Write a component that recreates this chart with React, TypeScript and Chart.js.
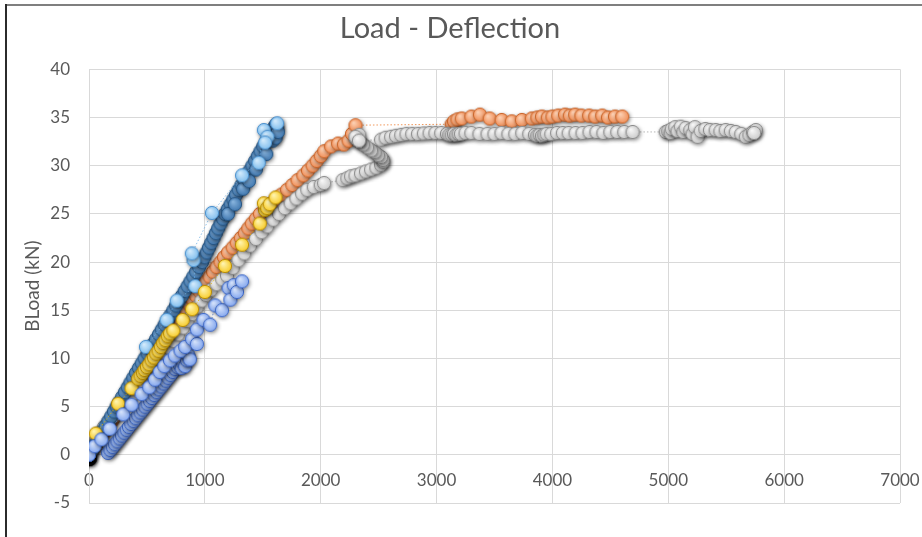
import React, { useEffect, useRef } from "react";
import { Chart, registerables } from "chart.js";

Chart.register(...registerables);

const TITLE = "Load - Deflection";
const Y_TITLE = "BLoad (kN)";
const xTicks = [0, 1000, 2000, 3000, 4000, 5000, 6000, 7000];
const yTicks = [-5, 0, 5, 10, 15, 20, 25, 30, 35, 40];

type P = [number, number];

const blackPts: P[] = [[0, -0.35], [6, -0.45], [3, -0.2]];

const steelPts: P[] = [
  [0, 0], [24, 0.5], [48, 1], [72, 1.5], [96, 2], [120, 2.5], [144, 3], [168, 3.5], [192, 4], [215, 4.5],
  [238, 5], [262, 5.5], [286, 6], [310, 6.5], [334, 7], [358, 7.5], [382, 8], [406, 8.5], [430, 9], [455, 9.5],
  [480, 10], [505, 10.5], [530, 11], [554, 11.5], [579, 12], [604, 12.5], [628, 13], [653, 13.5], [678, 14], [703, 14.5],
  [728, 15], [752, 15.5], [777, 16], [802, 16.5], [826, 17], [851, 17.5], [876, 18], [900, 18.5], [925, 19], [950, 19.5],
  [975, 20], [995, 20.5], [1015, 21], [1035, 21.5], [1055, 22], [1075, 22.5], [1095, 23], [1115, 23.5], [1135, 24], [1155, 24.5],
  [1175, 25], [1198, 25.5], [1222, 26], [1246, 26.5], [1269, 27], [1292, 27.5], [1316, 28], [1340, 28.5], [1363, 29], [1386, 29.5],
  [1410, 30], [1434, 30.5], [1457, 31], [1480, 31.5], [1504, 32], [1528, 32.5], [1551, 33], [1575, 33.5], [1598, 34], [1615, 34.3],
  [1625, 33.8], [1605, 33.2], [1585, 32.6], [1610, 32.9], [1630, 33.5],
  [1200, 25.0], [1330, 27.6], [1440, 29.6], [1530, 31.2], [1380, 28.4], [1260, 26.0],
];

const skyPts: P[] = [
  [491, 11.2], [670, 14], [757, 16], [916, 17.5], [902, 20.2], [887, 20.9], [1061, 25.1], [1321, 29],
  [1465, 30.3], [1509, 33.7], [1540, 33], [1520, 32.4], [1624, 34.4],
];

const orangePts: P[] = [
  [0, 0], [28, 0.5], [56, 1], [84, 1.5], [112, 2], [140, 2.5], [168, 3], [196, 3.5], [224, 4], [252, 4.5],
  [280, 5], [308, 5.5], [336, 6], [364, 6.5], [392, 7], [420, 7.5], [448, 8], [476, 8.5], [504, 9], [532, 9.5],
  [560, 10], [588, 10.5], [616, 11], [644, 11.5], [672, 12], [700, 12.5], [728, 13], [756, 13.5], [784, 14], [812, 14.5],
  [840, 15], [868, 15.5], [896, 16], [924, 16.5], [952, 17], [980, 17.5], [1008, 18], [1040, 18.5], [1070, 19], [1100, 19.5],
  [1135, 20], [1165, 20.5], [1200, 21], [1240, 21.5], [1275, 22], [1310, 22.5], [1345, 23], [1375, 23.5], [1405, 24], [1440, 24.5],
  [1475, 25], [1520, 25.5], [1565, 26], [1610, 26.5], [1660, 27], [1710, 27.5], [1755, 28], [1800, 28.5], [1850, 29], [1890, 29.5],
  [1930, 30], [1965, 30.5], [2000, 31], [2030, 31.5], [2090, 32], [2150, 32.3], [2200, 32.2], [2240, 32.6], [2270, 33.3], [2300, 34.2],
  [3130, 34.3], [3150, 34.6], [3180, 34.8], [3217, 34.9], [3300, 35.1], [3374, 35.3], [3459, 34.9], [3562, 34.75], [3649, 34.6], [3736, 34.75],
  [3822, 34.9], [3870, 35.0], [3909, 35.1], [3960, 35.0], [4000, 35.1], [4050, 35.2], [4109, 35.3], [4150, 35.2], [4196, 35.3], [4250, 35.2],
  [4317, 35.2], [4370, 35.1], [4430, 35.2], [4480, 35.0], [4540, 35.1], [4603, 35.1],
];

const grayPts: P[] = [
  [0, 0], [30, 0.8], [60, 1.6], [90, 2.3], [130, 2.9], [170, 3.5], [210, 4.0], [250, 4.5], [290, 5.0], [330, 5.6],
  [370, 6.2], [410, 6.8], [450, 7.5], [490, 8.1], [530, 8.7], [570, 9.3], [610, 9.9], [650, 10.5], [690, 11.1], [730, 11.8],
  [770, 12.5], [810, 13.2], [850, 13.9], [890, 14.6], [930, 15.3], [970, 16.0], [1010, 16.6], [1050, 17.1], [1100, 17.7], [1150, 18.2],
  [1191, 18.6], [1240, 19.4], [1290, 20.2], [1340, 20.9], [1390, 21.7], [1440, 22.4], [1490, 23.1], [1538, 23.7], [1590, 24.4], [1640, 25.0],
  [1690, 25.6], [1740, 26.1], [1790, 26.6], [1840, 27.1], [1884, 27.5], [1940, 27.8], [2000, 28.0], [2029, 28.2],
  [2189, 28.5], [2230, 28.7], [2262, 28.9], [2300, 29.0], [2348, 29.2], [2390, 29.4], [2435, 29.6], [2480, 29.8], [2521, 30.1], [2540, 30.4],
  [2536, 30.6], [2520, 30.9], [2493, 31.1], [2465, 31.4], [2435, 31.6], [2400, 31.9], [2363, 32.2], [2330, 32.5], [2305, 32.8], [2333, 33.2],
  [2300, 33.0], [2330, 32.6],
  [2521, 32.7], [2560, 32.9], [2608, 33.0], [2650, 33.1], [2695, 33.2], [2740, 33.3], [2790, 33.3], [2840, 33.3], [2890, 33.35], [2940, 33.4],
  [2990, 33.4], [3040, 33.4], [3090, 33.3], [3110, 33.2], [3130, 33.2], [3150, 33.3], [3170, 33.2], [3190, 33.3], [3210, 33.3], [3250, 33.4],
  [3300, 33.4], [3370, 33.3], [3440, 33.3], [3500, 33.3], [3560, 33.4], [3620, 33.3], [3680, 33.3], [3740, 33.4], [3800, 33.3], [3850, 33.2],
  [3870, 33.1], [3890, 33.2], [3910, 33.1], [3930, 33.2], [3950, 33.3], [3990, 33.3], [4040, 33.4], [4090, 33.4], [4140, 33.4], [4200, 33.4],
  [4260, 33.4], [4320, 33.5], [4380, 33.5], [4440, 33.4], [4500, 33.5], [4560, 33.5], [4620, 33.5], [4692, 33.5],
  [4978, 33.5], [5000, 33.6], [5020, 33.4], [5030, 33.8], [5060, 34.0], [5080, 33.6], [5108, 34.05], [5130, 33.5], [5150, 33.9], [5190, 33.7],
  [5210, 33.3], [5230, 34.0], [5253, 33.0], [5280, 33.6], [5320, 33.8], [5360, 33.7], [5409, 33.7], [5450, 33.6], [5495, 33.7], [5540, 33.6],
  [5582, 33.5], [5630, 33.3], [5669, 33.0], [5700, 33.2], [5730, 33.5], [5756, 33.7], [5740, 33.4],
];

const goldPts: P[] = [
  [58, 2.2], [251, 5.3], [367, 6.9], [425, 7.9], [445, 8.2], [465, 8.5], [480, 8.8], [500, 9.1], [520, 9.4], [540, 9.8],
  [560, 10.1], [580, 10.5], [600, 10.8], [620, 11.2], [640, 11.6], [660, 11.9], [680, 12.3], [700, 12.6], [728, 12.9], [809, 14.0],
  [890, 15.1], [1000, 16.9], [1173, 19.6], [1321, 21.8], [1474, 24.0], [1520, 25.4], [1509, 26.1], [1538, 25.6], [1560, 26.0], [1610, 26.7],
];

const cornDensePts: P[] = [
  [165, 0.2], [185, 0.5], [205, 0.8], [225, 1.1], [245, 1.4], [265, 1.7], [285, 2.0], [305, 2.3], [325, 2.6], [345, 2.9],
  [365, 3.2], [385, 3.5], [405, 3.8], [425, 4.1], [445, 4.4], [465, 4.7], [485, 5.0], [505, 5.3], [525, 5.6], [545, 5.9],
  [565, 6.2], [585, 6.5], [605, 6.8], [625, 7.1], [645, 7.4], [665, 7.7], [685, 8.0], [705, 8.3], [725, 8.6], [745, 8.9],
  [765, 9.1], [785, 9.3], [800, 9.0], [815, 9.5], [830, 9.2], [845, 9.8], [860, 10.2], [850, 10.5], [870, 9.9],
];

const cornSparsePts: P[] = [
  [0, 0], [49, 0.9], [107, 1.6], [179, 2.7], [295, 4.2], [367, 5.2], [454, 6.3], [520, 7.0], [569, 7.8], [610, 8.6],
  [650, 9.2], [699, 9.8], [740, 10.3], [790, 10.8], [830, 11.2], [890, 12.0], [931, 11.5], [931, 13.0], [988, 14.0], [1046, 13.5],
  [1090, 15.5], [1147, 15.0], [1205, 17.3], [1220, 16.1], [1249, 17.6], [1277, 16.9], [1321, 18.0],
];

const toXY = (pts: P[]) => pts.map(([x, y]) => ({ x, y }));

function makeMarker(hi: string, fill: string, stroke: string): HTMLCanvasElement {
  const c = document.createElement("canvas");
  c.width = 24;
  c.height = 24;
  const g = c.getContext("2d")!;
  const cx = 12, cy = 12, r = 6.6;
  g.save();
  g.shadowColor = "rgba(0,0,0,0.55)";
  g.shadowBlur = 4;
  g.shadowOffsetX = 1;
  g.shadowOffsetY = 1.5;
  g.beginPath();
  g.arc(cx, cy, r, 0, Math.PI * 2);
  g.fillStyle = fill;
  g.fill();
  g.restore();
  const grad = g.createRadialGradient(cx - 2, cy - 2.5, 0.5, cx, cy, r);
  grad.addColorStop(0, hi);
  grad.addColorStop(1, fill);
  g.beginPath();
  g.arc(cx, cy, r, 0, Math.PI * 2);
  g.fillStyle = grad;
  g.fill();
  g.lineWidth = 1;
  g.strokeStyle = stroke;
  g.stroke();
  return c;
}

export default function App() {
  const ref = useRef<HTMLCanvasElement>(null);
  useEffect(() => {
    document.body.style.margin = "0";
    const canvas = ref.current!;
    const textColor = "#595959";
    const gridColor = "#D9D9D9";
    const family = "Lato, 'Open Sans', sans-serif";
    const font = { family, size: 17 };

    const mk = (label: string, pts: P[], line: string, marker: HTMLCanvasElement) => ({
      label,
      data: toXY(pts),
      showLine: true,
      borderColor: line,
      borderWidth: 0.8,
      borderDash: [1.5, 2],
      backgroundColor: line,
      pointStyle: marker,
      pointRadius: 6.5,
      pointHoverRadius: 6.5,
    });

    const chart = new Chart(canvas, {
      type: "scatter",
      data: {
        datasets: [
          mk("C2", cornSparsePts, "#5B86D8", makeMarker("#D4E2FB", "#86A8EE", "#3E68C6")),
          mk("G", goldPts, "#E6B400", makeMarker("#FFF4B0", "#F8CD2E", "#B88A00")),
          mk("C1", cornDensePts, "#5B86D8", makeMarker("#C9DAFA", "#7FA3EC", "#3A62BE")),
          mk("S2", skyPts, "#6FB0E6", makeMarker("#D2EAFC", "#84C0EE", "#4A8FCC")),
          mk("S1", steelPts, "#4A7EB0", makeMarker("#86B2DC", "#4279B0", "#285785")),
          mk("Gr", grayPts, "#A5A5A5", makeMarker("#F7F7F7", "#CDCDCD", "#8C8C8C")),
          mk("O", orangePts, "#ED7D31", makeMarker("#FCD0B3", "#F0905A", "#C9652A")),
          mk("B", blackPts, "#000000", makeMarker("#333333", "#0A0A0A", "#000000")),
        ],
      },
      options: {
        animation: false,
        responsive: false,
        events: [],
        layout: { padding: { left: 0, right: 22, top: 0, bottom: 34 } },
        plugins: {
          legend: { display: false },
          tooltip: { enabled: false },
          title: {
            display: true,
            text: TITLE,
            color: textColor,
            font: { family, size: 29, weight: "normal" },
            padding: { top: 11, bottom: 23.5 },
          },
        },
        scales: {
          x: {
            type: "linear",
            position: { y: 0 },
            min: xTicks[0],
            max: xTicks[xTicks.length - 1],
            afterBuildTicks: (s: any) => {
              s.ticks = xTicks.map((v) => ({ value: v }));
            },
            afterFit: (s: any) => {
              s.paddingLeft = 0;
              s.paddingRight = 0;
            },
            ticks: {
              color: textColor,
              font,
              padding: 16,
              maxRotation: 0,
              autoSkip: false,
              callback: (v: any) => String(v),
            },
            grid: { color: gridColor, drawTicks: false, lineWidth: 1 },
            border: { color: gridColor },
          },
          y: {
            type: "linear",
            min: yTicks[0],
            max: yTicks[yTicks.length - 1],
            afterBuildTicks: (s: any) => {
              s.ticks = yTicks.map((v) => ({ value: v }));
            },
            afterFit: (s: any) => {
              s.width = 89;
            },
            ticks: {
              color: textColor,
              font,
              padding: 19,
              autoSkip: false,
              callback: (v: any) => String(v),
            },
            grid: { color: gridColor, drawTicks: false, lineWidth: 1 },
            border: { color: gridColor },
            title: {
              display: true,
              text: Y_TITLE,
              color: textColor,
              font: { family, size: 19 },
              padding: { top: 21.5, bottom: 0 },
            },
          },
        },
      } as any,
    });
    return () => chart.destroy();
  }, []);

  return (
    <div style={{ position: "relative", width: 922, height: 537, overflow: "hidden", background: "#ffffff" }}>
      <canvas ref={ref} width={922} height={537} style={{ position: "absolute", left: 0, top: 0 }} />
      <div style={{ position: "absolute", left: 5, top: 4, width: 917, height: 2, background: "#7f7f7f" }} />
      <div style={{ position: "absolute", left: 5, top: 4, width: 2, height: 533, background: "#2b2b2b" }} />
    </div>
  );
}
